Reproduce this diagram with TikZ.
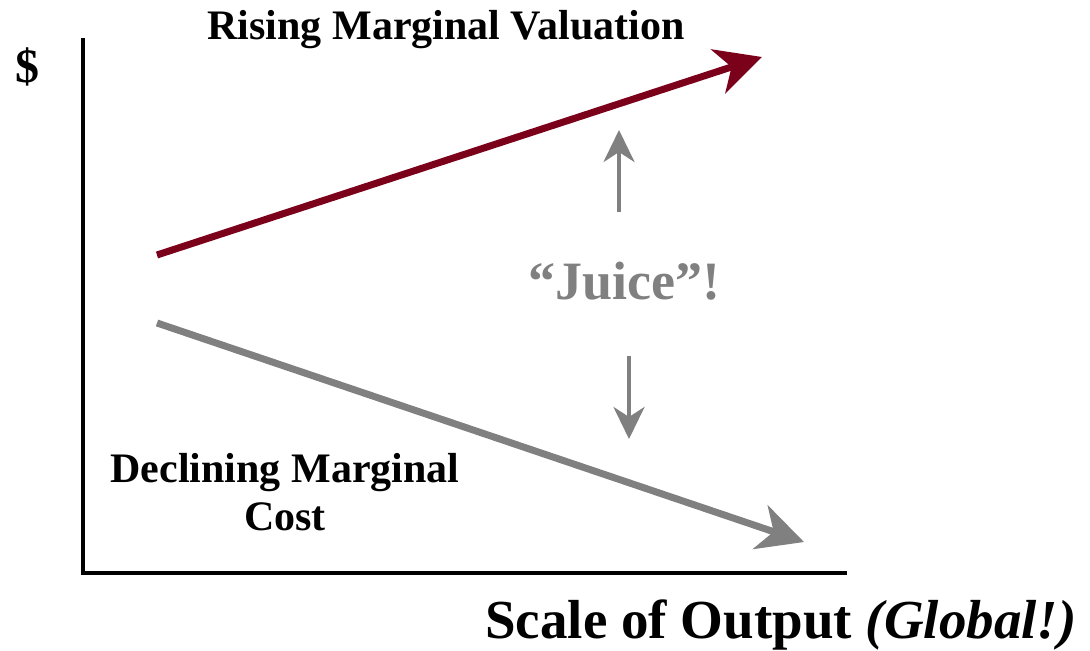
\documentclass[tikz,border=0pt]{standalone}
\usepackage{fontspec}
\setmainfont{Liberation Serif}
\usetikzlibrary{arrows.meta}
\definecolor{valred}{HTML}{7B0019}
\definecolor{juicegray}{HTML}{808080}
\begin{document}
\begin{tikzpicture}[x=0.5pt,y=-0.5pt,
  bigarrow/.style={line width=3.5pt,-{Stealth[length=23pt,width=23pt,inset=7pt]}},
  smallarrow/.style={juicegray,line width=2pt,-{Stealth[length=16pt,width=15.5pt,inset=5pt]}},
  axistext/.style={font=\bfseries\fontsize{21}{24}\selectfont,inner sep=0pt}]
\useasboundingbox (0,0) rectangle (1090,651);
% axes
\coordinate (top) at (83,38);
\coordinate (origin) at (83,573);
\coordinate (right) at (847,573);
\draw[line width=2pt] (top) -- (origin) -- (right);
\node[axistext,font=\bfseries\fontsize{24}{28}\selectfont] (dollar) at (27,67) {\$};
\node[axistext,font=\bfseries\fontsize{27.5}{32}\selectfont,anchor=base] (scale) at (781,638) {Scale of Output \textit{(Global!)}};
% valuation and cost
\coordinate (valstart) at (157,255);
\coordinate (valend) at (762,57);
\draw[bigarrow,valred] (valstart) -- (valend);
\node[axistext,anchor=base] (rising) at (446,40) {Rising Marginal Valuation};
\coordinate (coststart) at (157,323);
\coordinate (costend) at (804,542);
\draw[bigarrow,juicegray] (coststart) -- (costend);
\node[axistext,align=center,anchor=base] (declining) at (285,530) {Declining Marginal\\Cost};
% juice
\node[axistext,juicegray,font=\bfseries\fontsize{27}{32}\selectfont,anchor=base] (juice) at (624,300) {“Juice”!};
\coordinate (upstart) at (619,212);
\coordinate (upend) at (619,130);
\draw[smallarrow] (upstart) -- (upend);
\coordinate (downstart) at (629,356);
\coordinate (downend) at (629,439);
\draw[smallarrow] (downstart) -- (downend);
\end{tikzpicture}
\end{document}
